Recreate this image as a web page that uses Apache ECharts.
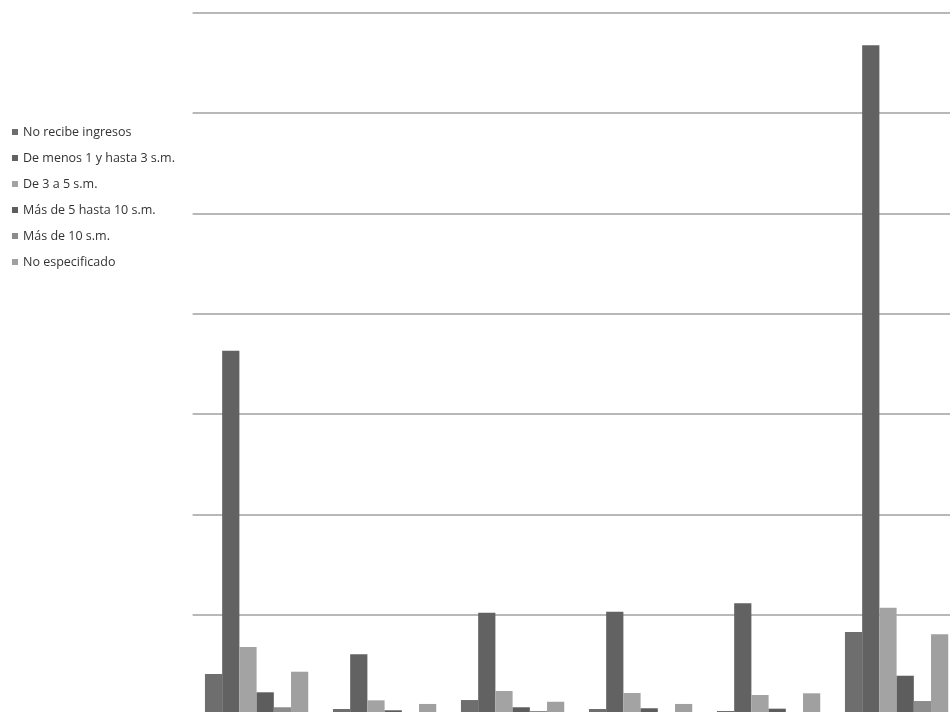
<!DOCTYPE html>
<html>
<head>
<meta charset="utf-8">
<script src="https://cdn.jsdelivr.net/npm/echarts@6/dist/echarts.min.js"></script>
<style>html,body{margin:0;padding:0;background:#fff;}#c{width:950px;height:712px;}</style>
</head>
<body>
<div id="c"></div>
<script>
const categories = ['G1','G2','G3','G4','G5','G6'];
const seriesNames = ['No recibe ingresos','De menos 1 y hasta 3 s.m.','De 3 a 5 s.m.','Más de 5 hasta 10 s.m.','Más de 10 s.m.','No especificado'];
const noRecibe   = [41.3, 6.5, 15.4, 6.5, 4.5, 83.1];
const deMenos1   = [363.2, 60.9, 102.4, 103.4, 111.7, 667.3];
const de3a5      = [68.2, 15.1, 24.4, 22.4, 20.4, 107.3];
const masDe5     = [23.1, 5.2, 8.2, 7.2, 6.8, 39.6];
const masDe10    = [8.2, 1, 4.5, 1, 1, 14.4];
const noEspec    = [43.6, 11.5, 13.7, 11.5, 22.1, 80.9];
const yTicks = [0, 100, 200, 300, 400, 500, 600, 700];

const colors = ['#6e6e6e','#626262','#a3a3a3','#5d5d5d','#8c8c8c','#a0a0a0'];
const values = [noRecibe, deMenos1, de3a5, masDe5, masDe10, noEspec];

const chart = echarts.init(document.getElementById('c'), null, {renderer:'canvas'});
chart.setOption({
  animation: false,
  backgroundColor: '#fff',
  color: colors,
  legend: {
    orient: 'vertical',
    left: 7,
    top: 120,
    padding: 5,
    itemWidth: 6,
    itemHeight: 6,
    itemGap: 12,
    icon: 'rect',
    textStyle: { fontFamily: 'Open Sans', fontSize: 12.5, color: '#333333', lineHeight: 14 },
    data: seriesNames
  },
  grid: { left: 192.6, top: 12.5, width: 768, height: 703, outerBoundsMode: 'none', containLabel: false },
  xAxis: {
    type: 'category',
    data: categories,
    axisLine: { show: false },
    axisTick: { show: false },
    axisLabel: { show: false }
  },
  yAxis: {
    type: 'value',
    min: yTicks[0],
    max: yTicks[yTicks.length-1],
    interval: 100,
    axisLabel: { show: false },
    axisLine: { show: false },
    axisTick: { show: false },
    splitLine: { show: true, lineStyle: { color: '#a0a0a0', width: 1.5 } }
  },
  series: seriesNames.map((n, i) => ({
    name: n,
    type: 'bar',
    data: values[i],
    barGap: '0%',
    barCategoryGap: '19.3%',
    itemStyle: { color: colors[i] }
  }))
});
</script>
</body>
</html>
